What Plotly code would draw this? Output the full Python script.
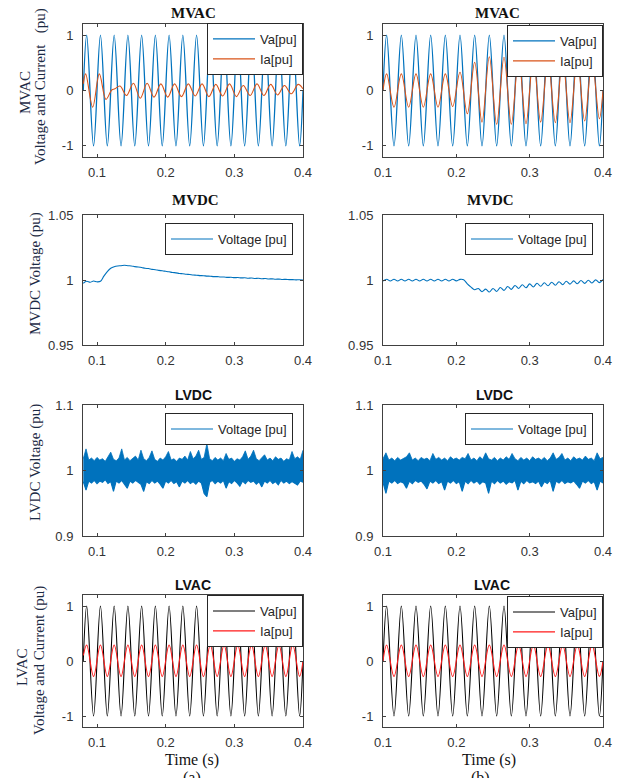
import numpy as np
import plotly.graph_objects as go

W, H = 620, 778

# ---------------- data ----------------
# AC panels: samples at the extrema of each half cycle (plus both ends)
t_ext_a = [0.08] + list(np.round(np.arange(0.085, 0.40, 0.01), 3)) + [0.40]
t_ext_b = [0.10] + list(np.round(np.arange(0.105, 0.40, 0.01), 3)) + [0.40]

va_a = [0.0,
        1.0, -1.0, 1.0, -1.0, 1.0, -1.0, 1.0, -1.0,
        1.0, -1.0, 1.0, -1.0, 1.0, -1.0, 1.0, -1.0,
        1.0, -1.0, 1.0, -1.0, 1.0, -1.0, 1.0, -1.0,
        1.0, -1.0, 1.0, -1.0, 1.0, -1.0, 1.0, -1.0,
        0.0]
va_b = [0.0,
        1.0, -1.0, 1.0, -1.0, 1.0, -1.0, 1.0, -1.0,
        1.0, -1.0, 1.0, -1.0, 1.0, -1.0, 1.0, -1.0,
        1.0, -1.0, 1.0, -1.0, 1.0, -1.0, 1.0, -1.0,
        1.0, -1.0, 1.0, -1.0, 1.0, -1.0,
        0.0]

# MVAC (a) current has its own timing (transient then small lagging wave)
ia_mvac_a_t = [0.080, 0.0835, 0.0937, 0.1034, 0.113, 0.1215, 0.126, 0.1335,
               0.143, 0.153, 0.163, 0.173, 0.183, 0.193, 0.203, 0.213, 0.223,
               0.233, 0.243, 0.253, 0.263, 0.273, 0.283, 0.293, 0.303, 0.313,
               0.323, 0.333, 0.343, 0.353, 0.363, 0.373, 0.383, 0.393, 0.400]
ia_mvac_a = [0.12, 0.30, -0.30, 0.30, -0.16, 0.01, 0.03, 0.08,
             -0.09, 0.13, -0.14, 0.13, -0.12, 0.12, -0.12, 0.12, -0.11,
             0.12, -0.10, 0.12, -0.11, 0.11, -0.10, 0.12, -0.11, 0.09,
             -0.09, 0.12, -0.09, 0.11, -0.08, 0.09, -0.06, 0.11, 0.03]

ia_mvac_b = [0.0, 0.30, -0.30, 0.30, -0.30, 0.30, -0.30, 0.30, -0.30, 0.30,
             -0.29, 0.33, -0.42, 0.51, -0.57, 0.61, -0.61, 0.60, -0.61, 0.60,
             -0.60, 0.59, -0.57, 0.58, -0.58, 0.58, -0.58, 0.57, -0.55, 0.55,
             -0.51, 0.0]

ia_lvac_a = [0.10,
             0.29, -0.28, 0.29, -0.28, 0.29, -0.28, 0.29, -0.28,
             0.29, -0.28, 0.29, -0.28, 0.29, -0.28, 0.29, -0.28,
             0.29, -0.28, 0.29, -0.28, 0.29, -0.28, 0.29, -0.28,
             0.29, -0.28, 0.29, -0.28, 0.29, -0.28, 0.29, -0.28,
             0.0]
ia_lvac_b = [0.0,
             0.29, -0.28, 0.29, -0.28, 0.29, -0.28, 0.29, -0.28,
             0.29, -0.28, 0.29, -0.28, 0.29, -0.28, 0.29, -0.28,
             0.29, -0.28, 0.29, -0.28, 0.29, -0.28, 0.29, -0.28,
             0.29, -0.28, 0.29, -0.28, 0.29, -0.28,
             0.0]

# MVDC voltage, sampled every 5 ms
t_dc5_a = np.round(np.linspace(0.08, 0.40, 65), 3)
t_dc5_b = np.round(np.linspace(0.10, 0.40, 61), 3)
mvdc_a = [0.9975, 0.9990, 0.9983, 0.9992, 0.9986, 0.9990, 1.0030, 1.0065,
          1.0090, 1.0102, 1.0108, 1.0110, 1.0113, 1.0110, 1.0108, 1.0103,
          1.0100, 1.0096, 1.0090, 1.0088, 1.0082, 1.0079, 1.0074, 1.0071,
          1.0067, 1.0063, 1.0058, 1.0055, 1.0050, 1.0048, 1.0044, 1.0042,
          1.0038, 1.0037, 1.0034, 1.0033, 1.0030, 1.0029, 1.0026, 1.0026,
          1.0023, 1.0023, 1.0020, 1.0021, 1.0018, 1.0019, 1.0016, 1.0017,
          1.0014, 1.0015, 1.0012, 1.0013, 1.0010, 1.0011, 1.0008, 1.0009,
          1.0006, 1.0007, 1.0004, 1.0005, 1.0003, 1.0003, 1.0001, 1.0002,
          1.0000]
mvdc_b = [0.9992, 1.0006, 0.9992, 1.0006, 0.9992, 1.0006, 0.9992, 1.0006,
          0.9992, 1.0006, 0.9992, 1.0006, 0.9992, 1.0006, 0.9992, 1.0006,
          0.9992, 1.0006, 0.9992, 1.0006, 0.9993, 1.0005, 1.0002, 0.9970,
          0.9945, 0.9925, 0.9935, 0.9910, 0.9930, 0.9908, 0.9935, 0.9912,
          0.9942, 0.9920, 0.9950, 0.9928, 0.9958, 0.9935, 0.9964, 0.9940,
          0.9970, 0.9946, 0.9975, 0.9952, 0.9979, 0.9956, 0.9983, 0.9960,
          0.9987, 0.9964, 0.9990, 0.9968, 0.9993, 0.9971, 0.9996, 0.9974,
          0.9998, 0.9977, 1.0001, 0.9980, 1.0003]

# LVDC voltage: upper / lower envelope of the noisy band, every 4 ms
t_dc4_a = np.round(np.linspace(0.08, 0.40, 81), 3)
t_dc4_b = np.round(np.linspace(0.10, 0.40, 76), 3)
lvdc_hi_a = [1.018, 1.033, 1.016, 1.019, 1.015, 1.020, 1.016, 1.018, 1.014,
             1.021, 1.028, 1.017, 1.015, 1.019, 1.033, 1.016, 1.020, 1.015,
             1.018, 1.022, 1.016, 1.031, 1.018, 1.015, 1.020, 1.030, 1.017,
             1.014, 1.019, 1.016, 1.021, 1.029, 1.016, 1.018, 1.014, 1.019,
             1.017, 1.022, 1.016, 1.029, 1.018, 1.022, 1.031, 1.017, 1.020,
             1.041, 1.018, 1.015, 1.020, 1.016, 1.019, 1.015, 1.026, 1.017,
             1.019, 1.014, 1.018, 1.016, 1.021, 1.030, 1.017, 1.022, 1.031,
             1.018, 1.015, 1.020, 1.024, 1.016, 1.019, 1.015, 1.021, 1.017,
             1.019, 1.014, 1.018, 1.016, 1.029, 1.018, 1.021, 1.017, 1.031]
lvdc_lo_a = [0.983, 0.970, 0.984, 0.981, 0.985, 0.980, 0.984, 0.982, 0.986,
             0.980, 0.983, 0.968, 0.984, 0.981, 0.985, 0.979, 0.973, 0.984,
             0.981, 0.985, 0.982, 0.979, 0.968, 0.983, 0.980, 0.985, 0.981,
             0.984, 0.979, 0.973, 0.984, 0.981, 0.985, 0.980, 0.983, 0.975,
             0.984, 0.981, 0.985, 0.980, 0.983, 0.979, 0.984, 0.981, 0.965,
             0.960, 0.982, 0.985, 0.980, 0.984, 0.981, 0.985, 0.973, 0.983,
             0.980, 0.985, 0.981, 0.976, 0.984, 0.980, 0.985, 0.982, 0.984,
             0.979, 0.983, 0.975, 0.984, 0.981, 0.985, 0.980, 0.983, 0.978,
             0.985, 0.981, 0.984, 0.980, 0.983, 0.981, 0.978, 0.984, 0.982]
lvdc_hi_b = [1.018, 1.027, 1.016, 1.019, 1.015, 1.020, 1.016, 1.018, 1.021,
             1.027, 1.016, 1.019, 1.015, 1.020, 1.017, 1.019, 1.015, 1.026,
             1.017, 1.020, 1.016, 1.019, 1.015, 1.021, 1.017, 1.019, 1.016,
             1.020, 1.018, 1.026, 1.016, 1.019, 1.015, 1.021, 1.017, 1.027,
             1.018, 1.016, 1.020, 1.015, 1.019, 1.016, 1.021, 1.017, 1.026,
             1.018, 1.015, 1.020, 1.016, 1.019, 1.015, 1.021, 1.017, 1.019,
             1.016, 1.020, 1.015, 1.019, 1.027, 1.017, 1.020, 1.026, 1.016,
             1.019, 1.015, 1.021, 1.017, 1.019, 1.016, 1.022, 1.017, 1.019,
             1.015, 1.027, 1.018, 1.020]
lvdc_lo_b = [0.982, 0.965, 0.984, 0.981, 0.985, 0.980, 0.983, 0.981, 0.973,
             0.984, 0.980, 0.985, 0.982, 0.984, 0.979, 0.972, 0.984, 0.981,
             0.985, 0.980, 0.983, 0.970, 0.984, 0.981, 0.985, 0.980, 0.983,
             0.968, 0.984, 0.980, 0.985, 0.981, 0.984, 0.979, 0.983, 0.981,
             0.965, 0.984, 0.980, 0.985, 0.981, 0.984, 0.979, 0.983, 0.981,
             0.985, 0.970, 0.984, 0.980, 0.985, 0.981, 0.983, 0.980, 0.984,
             0.975, 0.983, 0.980, 0.985, 0.968, 0.984, 0.981, 0.985, 0.980,
             0.983, 0.981, 0.984, 0.979, 0.973, 0.984, 0.981, 0.985, 0.980,
             0.983, 0.970, 0.984, 0.981]

x_ticks = [0.1, 0.2, 0.3, 0.4]
x_labels = ['0.1', '0.2', '0.3', '0.4']
y_ac_ticks, y_ac_labels = [-1, 0, 1], ['-1', '0', '1']
y_mvdc_ticks, y_mvdc_labels = [0.95, 1.0, 1.05], ['0.95', '1', '1.05']
y_lvdc_ticks, y_lvdc_labels = [0.9, 1.0, 1.1], ['0.9', '1', '1.1']

# ---------------- layout helpers ----------------
BLUE, ORANGE = '#0072BD', '#D95319'
AX = '#404040'
SANS = 'Liberation Sans, Arial, sans-serif'
SERIF = 'Liberation Serif, Times New Roman, serif'

col_px = {'a': (83, 303), 'b': (383, 603)}
row_px = [(24, 157), (215, 345), (405, 536), (595, 727)]


def fx(p):
    return p / W


def fy(p):
    return 1 - p / H


fig = go.Figure()


def idx(row, col):
    return row * 2 + (0 if col == 'a' else 1) + 1


def sfx(n):
    return '' if n == 1 else str(n)


def add_line(n, x, y, name, color, width, shape='spline', show=True):
    fig.add_trace(go.Scatter(x=x, y=y, mode='lines', name=name,
                             line=dict(color=color, width=width, shape=shape),
                             xaxis='x' + sfx(n), yaxis='y' + sfx(n),
                             legend='legend' + sfx(n), showlegend=show))


def add_band(n, x, lo, hi):
    add_line(n, x, lo, 'Voltage [pu]', BLUE, 1.1, shape='linear')
    fig.add_trace(go.Scatter(x=x, y=hi, mode='lines', fill='tonexty',
                             fillcolor=BLUE,
                             line=dict(color=BLUE, width=0.8),
                             xaxis='x' + sfx(n), yaxis='y' + sfx(n),
                             showlegend=False))


# row 1: MVAC
add_line(idx(0, 'a'), t_ext_a, va_a, 'Va[pu]', BLUE, 1.3)
add_line(idx(0, 'a'), ia_mvac_a_t, ia_mvac_a, 'Ia[pu]', ORANGE, 1.1)
add_line(idx(0, 'b'), t_ext_b, va_b, 'Va[pu]', BLUE, 1.3)
add_line(idx(0, 'b'), t_ext_b, ia_mvac_b, 'Ia[pu]', ORANGE, 1.1)
# row 2: MVDC
add_line(idx(1, 'a'), t_dc5_a, mvdc_a, 'Voltage [pu]', BLUE, 1.1)
add_line(idx(1, 'b'), t_dc5_b, mvdc_b, 'Voltage [pu]', BLUE, 1.1)
# row 3: LVDC
add_band(idx(2, 'a'), t_dc4_a, lvdc_lo_a, lvdc_hi_a)
add_band(idx(2, 'b'), t_dc4_b, lvdc_lo_b, lvdc_hi_b)
# row 4: LVAC
add_line(idx(3, 'a'), t_ext_a, va_a, 'Va[pu]', 'black', 1.1)
add_line(idx(3, 'a'), t_ext_a, ia_lvac_a, 'Ia[pu]', '#FF1A1A', 1.1)
add_line(idx(3, 'b'), t_ext_b, va_b, 'Va[pu]', 'black', 1.1)
add_line(idx(3, 'b'), t_ext_b, ia_lvac_b, 'Ia[pu]', '#FF1A1A', 1.1)

axis_common = dict(showline=True, linecolor=AX, linewidth=1, mirror='ticks',
                   ticks='inside', ticklen=3, tickcolor=AX, showgrid=False,
                   zeroline=False, automargin=False,
                   tickfont=dict(family=SANS, size=13, color='#333333'))

y_specs = [([-1.2, 1.2], y_ac_ticks, y_ac_labels),
           ([0.95, 1.05], y_mvdc_ticks, y_mvdc_labels),
           ([0.9, 1.1], y_lvdc_ticks, y_lvdc_labels),
           ([-1.2, 1.2], y_ac_ticks, y_ac_labels)]

# legend boxes: (right px, top px)
legend_pos = {(0, 'a'): (303, 23), (0, 'b'): (603, 25),
              (1, 'a'): (293, 223), (1, 'b'): (593, 223),
              (2, 'a'): (293, 413), (2, 'b'): (593, 413),
              (3, 'a'): (303, 595), (3, 'b'): (603, 596)}

lay = {}
for r in range(4):
    for c in ('a', 'b'):
        n = idx(r, c)
        x0, x1 = col_px[c]
        y0, y1 = row_px[r]
        rng, tv, tt = y_specs[r]
        lay['xaxis' + sfx(n)] = dict(axis_common, anchor='y' + sfx(n),
                                     domain=[fx(x0), fx(x1)],
                                     range=[0.0796 if c == 'a' else 0.1, 0.4],
                                     tickvals=x_ticks, ticktext=x_labels,
                                     ticklabelstandoff=3)
        lay['yaxis' + sfx(n)] = dict(axis_common, anchor='x' + sfx(n),
                                     domain=[fy(y1), fy(y0)], range=rng,
                                     tickvals=tv, ticktext=tt,
                                     ticklabelstandoff=6)
        lx, ly = legend_pos[(r, c)]
        lay['legend' + sfx(n)] = dict(x=fx(lx), y=fy(ly), xanchor='right',
                                      yanchor='top', bgcolor='white',
                                      bordercolor='#262626', borderwidth=1,
                                      tracegroupgap=0, traceorder='normal',
                                      itemwidth=42,
                                      font=dict(family=SANS, size=13,
                                                color='#262626'))

annotations = []


def note(text, xp, yp, font, size, angle=0, bold=False, color='#111111',
         yanchor='middle'):
    if bold:
        text = '<b>' + text + '</b>'
    annotations.append(dict(text=text, x=fx(xp), y=fy(yp), xref='paper',
                            yref='paper', showarrow=False, textangle=angle,
                            xanchor='center', yanchor=yanchor,
                            font=dict(family=font, size=size, color=color)))


# panel titles
note('MVAC', 193, 13, SERIF, 15, bold=True)
note('MVAC', 497, 13, SERIF, 15, bold=True)
note('MVDC', 195, 200, SERIF, 15, bold=True)
note('MVDC', 490, 200, SERIF, 15, bold=True)
note('LVDC', 193, 395, SANS, 14, bold=True)
note('LVDC', 494, 395, SANS, 14, bold=True)
note('LVAC', 193, 585, SANS, 14, bold=True)
note('LVAC', 492, 585, SANS, 14, bold=True)

# y axis titles
YT = '#1c2a44'
note('MVAC', 25, 93, SERIF, 15, angle=-90, color=YT)
note('Voltage and Current\u00a0\u00a0\u00a0(pu)', 40, 87, SERIF, 15, angle=-90, color=YT)
note('MVDC Voltage (pu)', 35, 274, SERIF, 15, angle=-90, color=YT)
note('LVDC Voltage (pu)', 35, 463, SERIF, 15, angle=-90, color=YT)
note('LVAC', 22, 667, SERIF, 15, angle=-90, color=YT)
note('Voltage and Current (pu)', 39, 660, SERIF, 15, angle=-90, color=YT)

# x axis titles and sub-figure labels
note('Time (s)', 192, 760, SERIF, 16)
note('Time (s)', 489, 760, SERIF, 16)
note('(a)', 192, 767, SERIF, 16, yanchor='top')
note('(b)', 480, 767, SERIF, 16, yanchor='top')

fig.update_layout(width=W, height=H,
                  margin=dict(l=0, r=0, t=0, b=0, autoexpand=False),
                  paper_bgcolor='white', plot_bgcolor='white',
                  annotations=annotations, **lay)

# page without the default body margin so the 620x778 figure fills the window
fig.write_html("out.html", config={'displayModeBar': False},
               post_script="document.body.style.margin='0';"
                           "document.body.style.overflow='hidden';")
